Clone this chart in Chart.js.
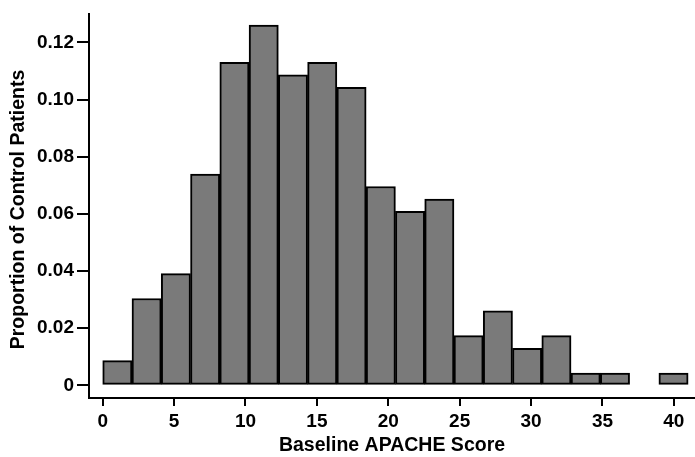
<!DOCTYPE html>
<html>
<head>
<meta charset="utf-8">
<script src="https://cdn.jsdelivr.net/npm/chart.js@4.4.1/dist/chart.umd.min.js"></script>
<style>
    html, body { margin: 0; padding: 0; background: #fff; }
    #wrap { width: 695px; height: 457px; }
</style>
</head>
<body>
<div id="wrap"><canvas id="myChart"></canvas></div>
<script>
// histogram bins (lower edges + last upper edge) and proportions per bin
const binEdges = [0, 2.05, 4.1, 6.15, 8.2, 10.25, 12.3, 14.35, 16.4, 18.45, 20.5,
    22.55, 24.6, 26.65, 28.7, 30.75, 32.8, 34.85, 36.9, 38.95, 41];
const proportions = [0.0087, 0.0304, 0.0391, 0.0739, 0.1130, 0.1261, 0.1087, 0.1130, 0.1043, 0.0696,
    0.0609, 0.0652, 0.0174, 0.0261, 0.0130, 0.0174, 0.0043, 0.0043, 0, 0.0043];
const xTicks = [0, 5, 10, 15, 20, 25, 30, 35, 40];
const yTicks = [0, 0.02, 0.04, 0.06, 0.08, 0.10, 0.12];
const xTitle = 'Baseline APACHE Score';
const yTitle = 'Proportion of Control Patients';

const fontFamily = '"Liberation Sans", Arial, Helvetica, sans-serif';

var histData = [];
for (let i = 0; i < proportions.length; i++) {
    histData.push({ x: (binEdges[i] + binEdges[i + 1]) / 2, y: proportions[i] });
}

// y title drawn by hand so it can sit where Stata put it
const yTitlePlugin = {
    id: 'yTitlePlugin',
    afterDraw: function (chart) {
        const c = chart.ctx;
        c.save();
        c.translate(19, 209.5);
        c.rotate(-Math.PI / 2);
        c.font = 'bold 19.5px ' + fontFamily;
        c.fillStyle = '#000';
        c.textAlign = 'center';
        c.textBaseline = 'middle';
        c.fillText(yTitle, 0, 0);
        c.restore();
    }
};

const ctx = document.getElementById('myChart');
const myChart = new Chart(ctx, {
    type: 'bar',
    data: {
        datasets: [{
            data: histData,
            backgroundColor: '#7a7a7a',
            borderColor: '#000',
            borderWidth: 2,
            borderSkipped: false,
            barPercentage: 1,
            categoryPercentage: 1
        }]
    },
    plugins: [yTitlePlugin],
    options: {
        responsive: true,
        maintainAspectRatio: false,
        animation: false,
        layout: {
            padding: { top: 5, right: 0, bottom: 0, left: 0 }
        },
        plugins: {
            legend: { display: false },
            tooltip: { enabled: false }
        },
        scales: {
            x: {
                type: 'linear',
                offset: false,
                min: -0.96,
                max: 41.48,
                afterBuildTicks: function (scale) {
                    scale.ticks = xTicks.map(v => ({ value: v }));
                },
                afterFit: function (scale) {
                    scale.height = 59;
                },
                grid: {
                    offset: false,
                    drawOnChartArea: false,
                    drawTicks: true,
                    tickLength: 8,
                    color: '#000',
                    lineWidth: 2
                },
                border: { display: true, color: '#000', width: 2 },
                ticks: {
                    color: '#000',
                    padding: 4,
                    maxRotation: 0,
                    autoSkip: false,
                    font: { family: fontFamily, size: 19, weight: 'bold' },
                    callback: function (value) { return String(value); }
                },
                title: {
                    display: true,
                    text: xTitle,
                    color: '#000',
                    padding: { top: 0, bottom: 0 },
                    font: { family: fontFamily, size: 19.5, weight: 'bold' }
                }
            },
            y: {
                min: -0.0044,
                max: 0.1298,
                afterBuildTicks: function (scale) {
                    scale.ticks = yTicks.map(v => ({ value: v }));
                },
                afterFit: function (scale) {
                    scale.width = 89;
                },
                grid: {
                    drawOnChartArea: false,
                    drawTicks: true,
                    tickLength: 12,
                    color: '#000',
                    lineWidth: 2
                },
                border: { display: true, color: '#000', width: 2 },
                ticks: {
                    color: '#000',
                    padding: 3,
                    autoSkip: false,
                    font: { family: fontFamily, size: 19, weight: 'bold' },
                    callback: function (value) {
                        return value === 0 ? '0' : value.toFixed(2);
                    }
                }
            }
        }
    }
});
</script>
</body>
</html>
